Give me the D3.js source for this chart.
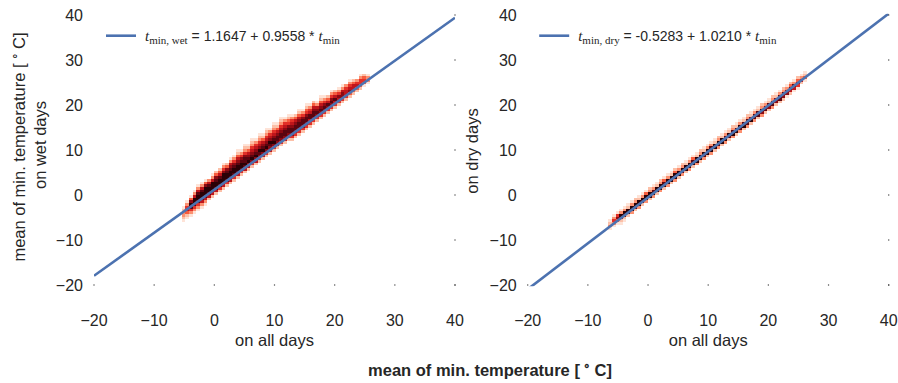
<!DOCTYPE html>
<html>
<head>
<meta charset="utf-8">
<script src="https://cdn.jsdelivr.net/npm/d3@7"></script>
<style>
  body { margin: 0; background: #fff; }
  svg { display: block; }
  text { font-family: Arial, "Liberation Sans", sans-serif; fill: #262626; }
</style>
</head>
<body>
<svg id="chart" width="898" height="383"></svg>
<script>
// Axis ticks (same for both panels, both axes)
const xTicks = [-20, -10, 0, 10, 20, 30, 40];
const yTicks = [-20, -10, 0, 10, 20, 30, 40];

// Width / height of one 2-D histogram bin, in degC
const binSize = 0.6;

// Linear fits drawn as lines
const wetFit = { intercept: 1.1647, slope: 0.9558 };
const dryFit = { intercept: -0.5283, slope: 1.0210 };

// 2-D histogram columns: [bin left edge (all days), lower edge of first bin, density levels bottom->top]
// level 0 = empty bin, 1..9 = increasing count
const wetCols = [
  [-5.4, -6.0, "123321"],
  [-4.8, -5.4, "1246531"],
  [-4.2, -4.8, "13589741"],
  [-3.6, -4.2, "135899631"],
  [-3.0, -3.6, "1358998631"],
  [-2.4, -3.0, "1368998631"],
  [-1.8, -2.4, "1368999741"],
  [-1.2, -1.2, "26899863"],
  [-0.6, -0.6, "268999631"],
  [0.0, 0.0, "268998742"],
  [0.6, 0.6, "258998642"],
  [1.2, 1.2, "2689997531"],
  [1.8, 1.8, "258998742"],
  [2.4, 2.4, "2689987631"],
  [3.0, 3.0, "2589987531"],
  [3.6, 3.6, "26899876421"],
  [4.2, 4.2, "2589987531"],
  [4.8, 4.8, "26898875321"],
  [5.4, 5.4, "2679876421"],
  [6.0, 6.0, "25798765321"],
  [6.6, 6.6, "2679876531"],
  [7.2, 7.2, "25789765321"],
  [7.8, 7.8, "2679876421"],
  [8.4, 8.4, "25798765321"],
  [9.0, 9.0, "2678976531"],
  [9.6, 9.6, "25798765321"],
  [10.2, 10.2, "2678876421"],
  [10.8, 10.8, "25788765321"],
  [11.4, 11.4, "2678876531"],
  [12.0, 12.0, "2578875421"],
  [12.6, 12.0, "2578876531"],
  [13.2, 12.6, "257887642"],
  [13.8, 13.2, "2578876421"],
  [14.4, 13.8, "257887531"],
  [15.0, 14.4, "2578875421"],
  [15.6, 15.0, "256886531"],
  [16.2, 15.6, "257887642"],
  [16.8, 16.2, "25787631"],
  [17.4, 16.8, "257876421"],
  [18.0, 17.4, "25787531"],
  [18.6, 18.0, "2578642"],
  [19.2, 18.6, "25787531"],
  [19.8, 19.2, "2568642"],
  [20.4, 19.8, "2567531"],
  [21.0, 20.4, "2577631"],
  [21.6, 21.0, "256653"],
  [22.2, 21.6, "2476531"],
  [22.8, 22.2, "246642"],
  [23.4, 22.8, "24653"],
  [24.0, 23.4, "245531"],
  [24.6, 24.0, "14542"],
  [25.2, 24.6, "1331"]
];

// Same layout for the dry-day histogram
const dryCols = [
  [-6.6, -8.4, "01321"],
  [-6.0, -7.8, "013531"],
  [-5.4, -7.2, "014751"],
  [-4.8, -6.6, "127931"],
  [-4.2, -6.0, "128931"],
  [-3.6, -4.8, "29921"],
  [-3.0, -4.2, "39931"],
  [-2.4, -3.6, "28932"],
  [-1.8, -3.0, "39921"],
  [-1.2, -2.4, "28931"],
  [-0.6, -1.8, "39941"],
  [0.0, -1.2, "29932"],
  [0.6, -0.6, "39831"],
  [1.2, 0.0, "29921"],
  [1.8, 0.6, "39932"],
  [2.4, 1.2, "29841"],
  [3.0, 1.8, "39931"],
  [3.6, 2.4, "29921"],
  [4.2, 3.0, "39942"],
  [4.8, 3.6, "29931"],
  [5.4, 4.2, "38932"],
  [6.0, 4.8, "29921"],
  [6.6, 5.4, "39931"],
  [7.2, 6.0, "29841"],
  [7.8, 6.6, "39921"],
  [8.4, 7.2, "29932"],
  [9.0, 7.8, "38921"],
  [9.6, 8.4, "29931"],
  [10.2, 9.0, "39831"],
  [10.8, 9.6, "29921"],
  [11.4, 10.2, "38932"],
  [12.0, 10.8, "29921"],
  [12.6, 11.4, "39831"],
  [13.2, 12.0, "28921"],
  [13.8, 12.6, "39832"],
  [14.4, 13.2, "29821"],
  [15.0, 13.8, "38931"],
  [15.6, 14.4, "29821"],
  [16.2, 15.0, "38832"],
  [16.8, 15.6, "29721"],
  [17.4, 16.2, "38831"],
  [18.0, 16.8, "28821"],
  [18.6, 17.4, "37932"],
  [19.2, 18.0, "28731"],
  [19.8, 18.6, "27821"],
  [20.4, 19.2, "38832"],
  [21.0, 19.8, "27721"],
  [21.6, 20.4, "28831"],
  [22.2, 21.0, "27832"],
  [22.8, 21.6, "17731"],
  [23.4, 22.2, "26842"],
  [24.0, 22.8, "16831"],
  [24.6, 23.4, "15742"],
  [25.2, 24.6, "2631"],
  [25.8, 25.2, "1421"]
];

// Colour for each density level (Reds ramp, darkest bins near black)
const levelColor = [null, "#fee3d7", "#fcc0a8", "#fc9070", "#f65c3e", "#e32f27", "#bf151b", "#8c0a13", "#5a0510", "#2a0106"];

const svg = d3.select("#chart");
const plotTop = 15, plotBottom = 285;

const panels = [
  { left: 94, right: 455, cols: wetCols, fit: wetFit, tag: "wet" },
  { left: 527.7, right: 888.7, cols: dryCols, fit: dryFit, tag: "dry" }
];

const serif = "'Liberation Serif', 'DejaVu Serif', serif";

function degLabel(sel) {
  // "[°C]" with the ring raised like a superscript
  sel.append("tspan").text("\u2009");
  sel.append("tspan").attr("dy", -6).attr("font-size", "0.7em").text("\u2218");
  sel.append("tspan").attr("dy", 6).text("\u2009C]");
}

panels.forEach((p, i) => {
  const x = d3.scaleLinear().domain([-20, 40]).range([p.left, p.right]);
  const y = d3.scaleLinear().domain([-20, 40]).range([plotBottom, plotTop]);
  const g = svg.append("g");

  const clipId = "clip-" + p.tag;
  svg.append("clipPath").attr("id", clipId)
    .append("rect").attr("x", p.left).attr("y", y(40.3))
    .attr("width", p.right - p.left).attr("height", y(-20.3) - y(40.3));

  // histogram cells
  const cells = [];
  p.cols.forEach(([x0, y0, levels]) => {
    levels.split("").forEach((c, k) => {
      const lv = +c;
      if (lv > 0) cells.push({ x0, y0: y0 + k * binSize, lv });
    });
  });
  g.append("g").attr("shape-rendering", "crispEdges")
    .selectAll("rect").data(cells).join("rect")
    .attr("x", d => x(d.x0))
    .attr("y", d => y(d.y0 + binSize))
    .attr("width", d => x(d.x0 + binSize) - x(d.x0))
    .attr("height", d => y(d.y0) - y(d.y0 + binSize))
    .attr("fill", d => levelColor[d.lv]);

  // fit line
  const line = d3.line().x(d => x(d)).y(d => y(p.fit.intercept + p.fit.slope * d));
  g.append("path").datum([-20, 40])
    .attr("d", line)
    .attr("clip-path", `url(#${clipId})`)
    .attr("fill", "none").attr("stroke", "#4c72b0").attr("stroke-width", 2.6);

  // small tick marks along the bottom and right edges
  g.selectAll(".xt").data(xTicks).join("rect")
    .attr("x", d => x(d) - 0.6).attr("y", plotBottom - 0.6).attr("width", 1.2).attr("height", 1.2)
    .attr("fill", "#444");
  g.selectAll(".yt").data(yTicks).join("rect")
    .attr("x", p.right - 0.6).attr("y", d => y(d) - 0.6).attr("width", 1.2).attr("height", 1.2)
    .attr("fill", "#444");

  // tick labels
  const fmt = d => (d < 0 ? "\u2212" + Math.abs(d) : String(d));
  g.selectAll(".xl").data(xTicks).join("text")
    .attr("x", d => x(d)).attr("y", 325.5)
    .attr("text-anchor", "middle").attr("font-size", 16)
    .text(fmt);
  g.selectAll(".yl").data(yTicks).join("text")
    .attr("x", p.left - 11).attr("y", d => y(d) + 5.7)
    .attr("text-anchor", "end").attr("font-size", 16)
    .text(fmt);

  // x axis label
  g.append("text").attr("x", (p.left + p.right) / 2).attr("y", 346)
    .attr("text-anchor", "middle").attr("font-size", 16.5).text("on all days");

  // legend
  const lx = p.left + (i === 0 ? 12 : 11.5);
  g.append("line").attr("x1", lx).attr("x2", lx + 30).attr("y1", 35.7).attr("y2", 35.7)
    .attr("stroke", "#4c72b0").attr("stroke-width", 2.6);
  const lt = g.append("text").attr("x", lx + 39).attr("y", 41).attr("font-size", 14);
  lt.append("tspan").attr("font-family", serif).attr("font-style", "italic").attr("font-size", 15).text("t");
  lt.append("tspan").attr("font-family", serif).attr("font-size", 11)
    .attr("dy", 2.5).text(i === 0 ? "min, wet" : "min, dry");
  lt.append("tspan").attr("dy", -2.5)
    .text(i === 0 ? " = 1.1647 + 0.9558 * " : " = -0.5283 + 1.0210 * ");
  lt.append("tspan").attr("font-family", serif).attr("font-style", "italic").attr("font-size", 15).text("t");
  lt.append("tspan").attr("font-family", serif).attr("font-size", 11)
    .attr("dy", 2.5).text("min");
});

// y axis labels
const yl1 = svg.append("text").attr("transform", "translate(24.5,147) rotate(-90)")
  .attr("text-anchor", "middle").attr("font-size", 16.5);
yl1.append("tspan").text("mean of min. temperature [");
degLabel(yl1);
svg.append("text").attr("transform", "translate(45.5,145) rotate(-90)")
  .attr("text-anchor", "middle").attr("font-size", 16.5).text("on wet days");
svg.append("text").attr("transform", "translate(478,151) rotate(-90)")
  .attr("text-anchor", "middle").attr("font-size", 16.5).text("on dry days");

// shared x axis title
const xt = svg.append("text").attr("x", 490).attr("y", 376)
  .attr("text-anchor", "middle").attr("font-size", 16.5).attr("font-weight", "bold");
xt.append("tspan").text("mean of min. temperature [");
degLabel(xt);
</script>
</body>
</html>
